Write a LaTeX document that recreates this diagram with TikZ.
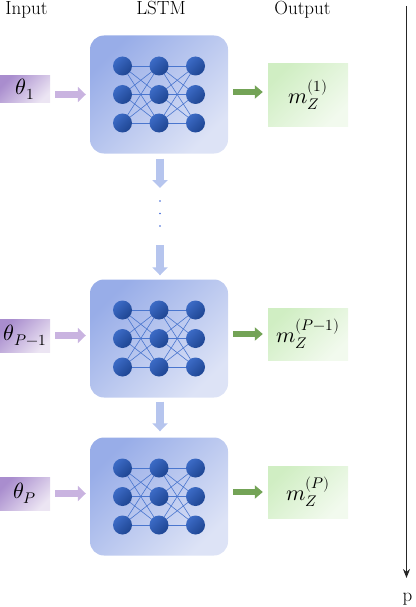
\documentclass[tikz,border=0pt]{standalone}
\usepackage{fontspec}
\usepackage{unicode-math}
\setmathfont{Latin Modern Math}
\usetikzlibrary{arrows.meta,calc}
\definecolor{lstmA}{HTML}{98ADE8}
\definecolor{lstmB}{HTML}{DDE3F6}
\definecolor{neuA}{HTML}{3C6BC6}
\definecolor{neuB}{HTML}{1E4592}
\definecolor{netline}{HTML}{4A76CE}
\definecolor{inA}{HTML}{A98DCE}
\definecolor{inB}{HTML}{ECE5F3}
\definecolor{outA}{HTML}{D0EEC3}
\definecolor{outB}{HTML}{F2FAEE}
\definecolor{inarrow}{HTML}{C9B3E0}
\definecolor{outarrow}{HTML}{73A356}
\definecolor{downarrow}{HTML}{B6C5EE}
\definecolor{dotcol}{HTML}{3A64D6}
\definecolor{axiscol}{HTML}{262626}
\tikzset{
  x=1pt, y=1pt,
  lbl/.style={font=\fontsize{19}{22}\selectfont, anchor=base, inner sep=0pt},
  mathtxt/.style={font=\fontsize{22}{26}\selectfont},
  lstmbox/.style={draw=none, rounded corners=14pt, minimum width=138pt, minimum height=118pt,
    top color=lstmA, bottom color=lstmB, shading angle=45, inner sep=0pt},
  neuron/.style={circle, draw=none, minimum size=19pt, inner sep=0pt,
    top color=neuA, bottom color=neuB, shading angle=45},
  netedge/.style={draw=netline, line width=0.6pt},
  inbox/.style={draw=none, minimum width=50pt, inner sep=0pt, mathtxt,
    top color=inA, bottom color=inB, shading angle=45},
  outbox/.style={draw=none, minimum width=80pt, inner sep=0pt, mathtxt,
    top color=outA, bottom color=outB, shading angle=45},
  inarr/.style={draw=inarrow, line width=7pt, -{Triangle[width=15pt,length=8pt]}},
  outarr/.style={draw=outarrow, line width=6pt, -{Triangle[width=13pt,length=8pt]}},
  downarr/.style={draw=downarrow, line width=8pt, -{Triangle[width=15pt,length=8pt]}},
  axisarr/.style={draw=axiscol, line width=1.6pt, -{Stealth[width=7pt,length=9pt]}},
}
\newcommand{\lstmnet}[2]{%
  \node[lstmbox] (#1) at #2 {};
  \foreach \c/\dx in {1/-36.5,2/0,3/36.5}{
    \foreach \r/\dy in {1/28.5,2/0,3/-28.5}{
      \coordinate (#1-p\c\r) at ($(#1.center)+(\dx,\dy)$);
    }
  }
  \foreach \a/\b in {1/2,2/3}{
    \foreach \i in {1,2,3}{
      \foreach \j in {1,2,3}{
        \draw[netedge] (#1-p\a\i) -- (#1-p\b\j);
      }
    }
  }
  \foreach \c in {1,2,3}{
    \foreach \r in {1,2,3}{
      \node[neuron] (#1-n\c\r) at (#1-p\c\r) {};
    }
  }
}
\begin{document}
\begin{tikzpicture}
\useasboundingbox (0,0) rectangle (415,-607);
% column labels
\node[lbl] (hin) at (26.5,-15) {Input};
\node[lbl] (hlstm) at (161,-15) {LSTM};
\node[lbl] (hout) at (302.5,-15) {Output};
% LSTM blocks
\lstmnet{L1}{(159,-94.5)}
\lstmnet{L2}{(159,-338.5)}
\lstmnet{L3}{(159,-496.5)}
% inputs
\node[inbox, minimum height=27pt] (in1) at (25,-89.5) {$\theta_1$};
\node[inbox, minimum height=33pt] (in2) at (25,-335.5) {$\theta_{P-1}$};
\node[inbox, minimum height=33pt] (in3) at (25,-493.5) {$\theta_P$};
% outputs
\node[outbox, minimum height=62pt] (out1) at (308,-95) {$m_Z^{(1)}$};
\node[outbox, minimum height=52pt] (out2) at (308,-334) {$m_Z^{(P-1)}$};
\node[outbox, minimum height=52pt] (out3) at (308,-492) {$m_Z^{(P)}$};
% input arrows
\draw[inarr, shorten <=5pt, shorten >=4pt] (in1.east |- L1.west) -- (L1.west);
\draw[inarr, shorten <=5pt, shorten >=4pt] (in2.east) -- (L2.west |- in2.east);
\draw[inarr, shorten <=5pt, shorten >=4pt] (in3.east) -- (L3.west |- in3.east);
% output arrows
\draw[outarr, shorten <=5pt, shorten >=5pt] (L1.east |- 0,-92) -- (out1.west |- 0,-92);
\draw[outarr, shorten <=5pt, shorten >=5pt] (L2.east |- out2.west) -- (out2.west);
\draw[outarr, shorten <=5pt, shorten >=5pt] (L3.east |- out3.west) -- (out3.west);
% vertical flow
\coordinate (gapA) at (160,-188);
\coordinate (gapB) at (160,-245);
\draw[downarr, shorten <=5pt] (L1.south -| gapA) -- (gapA);
\node[circle, fill=dotcol, inner sep=0pt, minimum size=1.6pt] (d1) at (160,-201) {};
\node[circle, fill=dotcol, inner sep=0pt, minimum size=1.6pt] (d2) at (160,-213.5) {};
\node[circle, fill=dotcol, inner sep=0pt, minimum size=1.6pt] (d3) at (160,-226) {};
\draw[downarr, shorten >=4pt] (gapB) -- (L2.north -| gapB);
\draw[downarr, shorten <=4pt, shorten >=6pt] (L2.south -| gapA) -- (L3.north -| gapA);
% p axis
\coordinate (axtop) at (406.5,-6);
\coordinate (axbot) at (406.5,-578);
\draw[axisarr] (axtop) -- (axbot);
\node[lbl] (plbl) at (407.5,-601) {p};
\end{tikzpicture}
\end{document}
